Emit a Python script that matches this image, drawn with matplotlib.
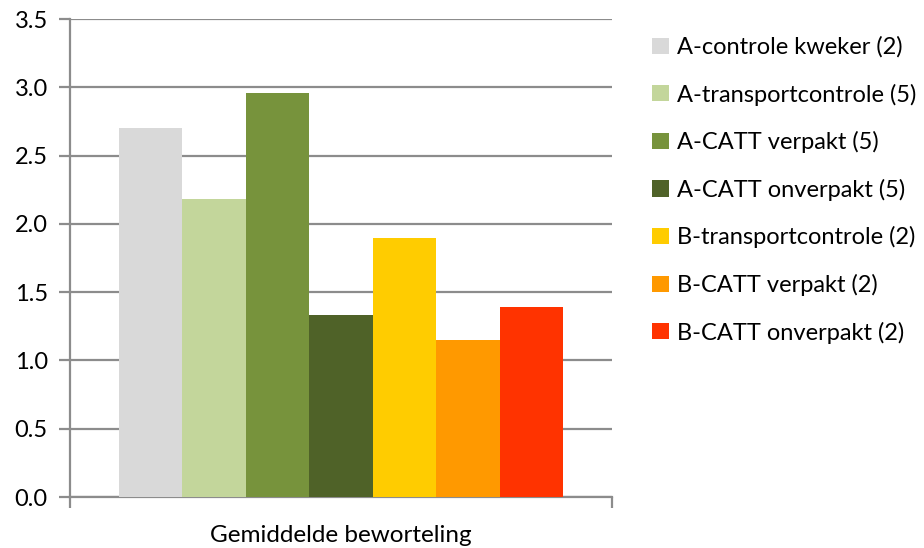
import matplotlib
matplotlib.use("Agg")
import matplotlib.pyplot as plt
from matplotlib.patches import Patch

# Data
series = [
    "A-controle kweker (2)",
    "A-transportcontrole (5)",
    "A-CATT verpakt (5)",
    "A-CATT onverpakt (5)",
    "B-transportcontrole (2)",
    "B-CATT verpakt (2)",
    "B-CATT onverpakt (2)",
]
values = [2.70, 2.18, 2.96, 1.33, 1.90, 1.15, 1.39]
colors = ["#d9d9d9", "#c3d69b", "#77933c", "#4f6228", "#ffcc00", "#ff9900", "#ff3300"]
category = "Gemiddelde beworteling"
yticks = [0.0, 0.5, 1.0, 1.5, 2.0, 2.5, 3.0, 3.5]

plt.rcParams["font.family"] = ["Lato", "DejaVu Sans"]

fig = plt.figure(figsize=(9.24, 5.48), dpi=100)
ax = fig.add_axes([70 / 924, 51 / 548, 542 / 924, 478 / 548])

group = 0.82
w = group / len(values)
for i, (v, c, s) in enumerate(zip(values, colors, series)):
    ax.bar(-group / 2 + w * (i + 0.5), v, width=w, color=c, label=s, zorder=3)

ax.set_xlim(-0.5, 0.5)
ax.set_ylim(0, 3.5)
ax.set_yticks(yticks)
ax.set_yticklabels([f"{t:.1f}" for t in yticks], fontsize=17)
ax.yaxis.grid(True, color="#8c8c8c", linewidth=1.6, zorder=0)
ax.set_axisbelow(True)

ax.set_xticks([0])
ax.set_xticklabels([category], fontsize=17.5)
ax.set_xticks([-0.5, 0.5], minor=True)
ax.tick_params(axis="x", which="major", length=0, pad=20)
ax.tick_params(axis="x", which="minor", length=8, width=1.6, color="#8c8c8c", direction="out")
ax.tick_params(axis="y", length=8, width=1.6, color="#8c8c8c", direction="out", pad=8)

for side in ("top", "right"):
    ax.spines[side].set_visible(False)
for side in ("left", "bottom"):
    ax.spines[side].set_color("#8c8c8c")
    ax.spines[side].set_linewidth(1.6)

handles = [Patch(facecolor=c, edgecolor="none") for c in colors]
fig.legend(handles, series, loc="upper left", bbox_to_anchor=(643 / 924, 1 - 27 / 548),
           frameon=False, fontsize=17, handlelength=0.68, handleheight=0.68,
           handletextpad=0.35, labelspacing=1.08, borderaxespad=0)

fig.savefig("out.png", dpi=100)
